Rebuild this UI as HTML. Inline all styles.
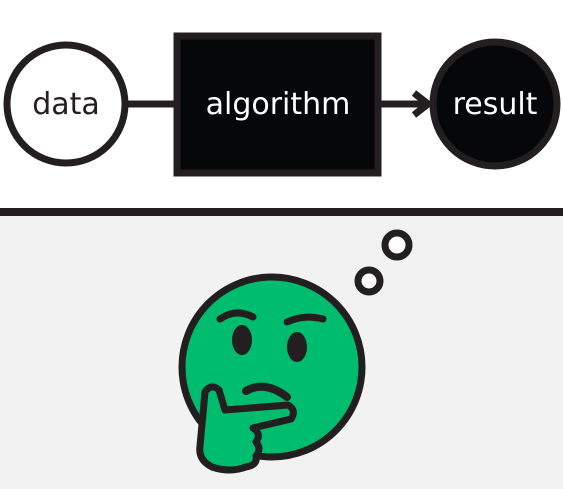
<!DOCTYPE html>
<html><head><style>
html,body{margin:0;padding:0;background:#fff;}
svg{display:block;}
text{font-family:"DejaVu Sans","Liberation Sans",sans-serif;font-size:30px;}
</style></head><body>
<svg width="563" height="489" viewBox="0 0 563 489">
<rect x="0" y="214" width="563" height="275" fill="#f2f2f2"/>
<rect x="0" y="208" width="563" height="8" fill="#231f20"/>
<line x1="128" y1="104" x2="180" y2="104" stroke="#231f20" stroke-width="7"/>
<polygon points="174,93 190,104 174,115" fill="#231f20"/>
<line x1="380" y1="104" x2="425" y2="104" stroke="#231f20" stroke-width="7"/>
<polyline points="414,93 428,104 414,115" fill="none" stroke="#231f20" stroke-width="7"/>
<circle cx="66" cy="104" r="59" fill="#fff" stroke="#231f20" stroke-width="7"/>
<text x="66" y="114" text-anchor="middle" fill="#231f20">data</text>
<rect x="177" y="36" width="201" height="137" fill="#050708" stroke="#231f20" stroke-width="7"/>
<text x="278" y="114" text-anchor="middle" fill="#fff">algorithm</text>
<circle cx="495" cy="104" r="62" fill="#050708" stroke="#231f20" stroke-width="7"/>
<text x="495" y="114" text-anchor="middle" fill="#fff">result</text>
<circle cx="397" cy="245" r="12" fill="#fff" stroke="#231f20" stroke-width="7"/>
<circle cx="369" cy="281" r="11" fill="#fff" stroke="#231f20" stroke-width="7"/>
<circle cx="272" cy="367" r="90" fill="#00bc6e" stroke="#231f20" stroke-width="7"/>
<ellipse cx="242" cy="340" rx="10" ry="15" fill="#231f20"/>
<ellipse cx="297" cy="347" rx="10" ry="15" fill="#231f20"/>
<path d="M220,319 Q236,308 253,317" fill="none" stroke="#231f20" stroke-width="7" stroke-linecap="round"/>
<path d="M287,322 Q304,314 323,319" fill="none" stroke="#231f20" stroke-width="7" stroke-linecap="round"/>
<path d="M246,391 Q265,380 287,397" fill="none" stroke="#231f20" stroke-width="8" stroke-linecap="round"/>
<path d="M205,392 Q211,383 219,390 L225,410 L288,405 Q297,410 291,419 L253,428 Q262,434 256,442 Q262,449 256,456 Q258,465 246,467 Q230,473 212,467 Q198,460 200,446 Z" fill="#00bc6e" stroke="#231f20" stroke-width="7" stroke-linejoin="round"/>
</svg>
</body></html>
